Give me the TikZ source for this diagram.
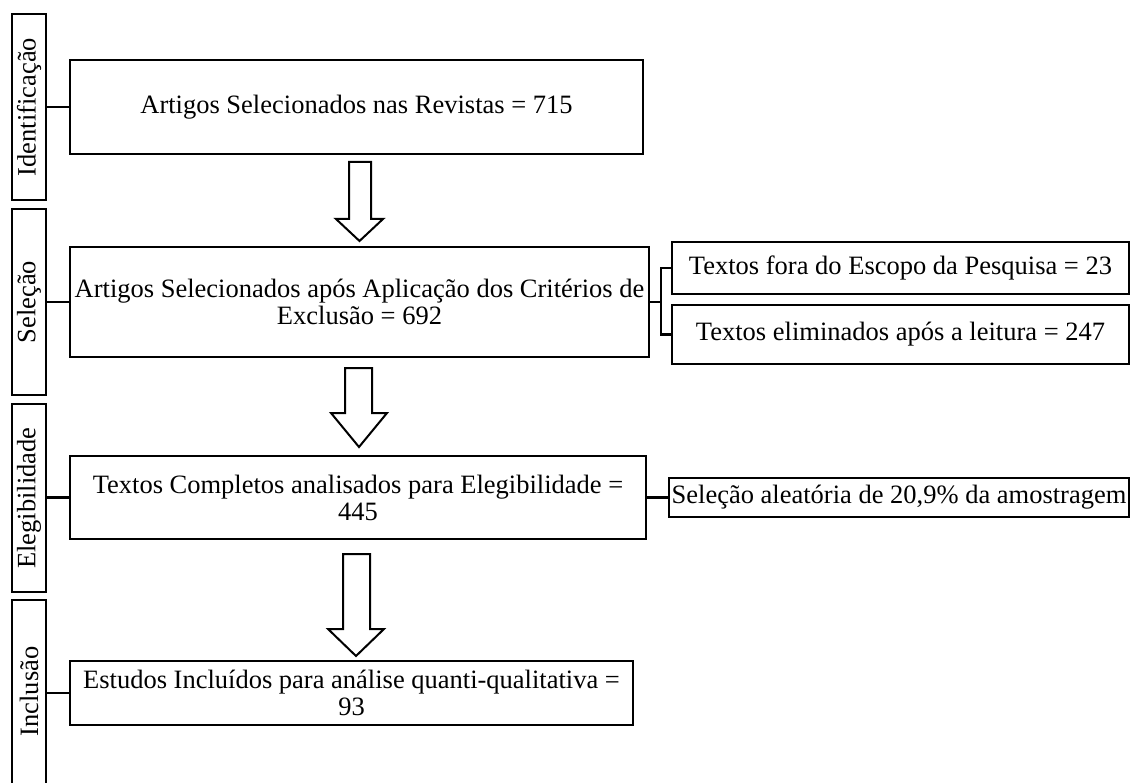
\documentclass[tikz,border=0pt]{standalone}
\usepackage{fontspec}
\setmainfont{Liberation Serif}
\begin{document}
\begin{tikzpicture}[x=1pt,y=-1pt,
  every node/.style={font=\fontsize{26.5}{27}\selectfont, inner sep=0pt, outer sep=0pt},
  phase/.style={draw, line width=2.8pt, minimum width=34pt, anchor=north west},
  mainbox/.style={draw, line width=2.8pt, align=center, anchor=north west},
  sidebox/.style={draw, line width=2.8pt, align=center, anchor=north west},
  link/.style={line width=2.8pt},
  barrow/.style={draw, line width=2pt, fill=white, line join=miter}]
\useasboundingbox (0,0) rectangle (1131,783);

% phase boxes
\node[phase, minimum height=186pt] (P1) at (12,14) {};
\node[rotate=90] at (P1.center) {Identificação};
\node[phase, minimum height=186pt] (P2) at (12,209) {};
\node[rotate=90] at (P2.center) {Seleção};
\node[phase, minimum height=188pt] (P3) at (12,404) {};
\node[rotate=90] at (P3.center) {Elegibilidade};
\node[minimum width=34pt, minimum height=183pt, anchor=north west] (P4) at (12,600) {};
\draw[line width=2.8pt] (P4.south west) -- (P4.north west) -- (P4.north east) -- (P4.south east);
\node[rotate=90] at (P4.center) {Inclusão};

% main boxes
\node[mainbox, minimum width=573pt, minimum height=94pt] (B1) at (70,60) {Artigos Selecionados nas Revistas = 715};
\node[mainbox, minimum width=579pt, minimum height=110pt] (B2) at (70,247) {Artigos Selecionados após Aplicação dos Critérios de\\Exclusão = 692};
\node[mainbox, minimum width=576pt, minimum height=83pt] (B3) at (70,456) {Textos Completos analisados para Elegibilidade =\\445};
\node[mainbox, minimum width=563pt, minimum height=64pt] (B4) at (70,661) {Estudos Incluídos para análise quanti-qualitativa =\\93};

% phase links
\draw[link] (B1.west) -- (B1.west -| P1.east);
\draw[link] (B2.west) -- (B2.west -| P2.east);
\draw[link] (B3.west) -- (B3.west -| P3.east);
\draw[link] (B4.west) -- (B4.west -| P4.east);

% side boxes
\node[sidebox, minimum width=457pt, minimum height=52pt] (RA) at (672,242) {Textos fora do Escopo da Pesquisa = 23};
\node[sidebox, minimum width=457pt, minimum height=59pt] (RB) at (672,305) {Textos eliminados após a leitura = 247};
\node[sidebox, minimum width=460pt, minimum height=39pt] (RC) at (669,478) {Seleção aleatória de 20,9\% da amostragem};

\coordinate (br) at (661,301.5);
\draw[link] (B2.east) -- (B2.east -| br);
\draw[link] (RA.west) -| (br) |- (RB.west);
\draw[link] (B3.east) -- (RC.west);

% block arrows
\draw[barrow] (349,162) -- (371,162) -- (371,219) -- (383,219) -- (359.5,241) -- (336,219) -- (349,219) -- cycle;
\draw[barrow] (345,368) -- (372,368) -- (372,413) -- (387,413) -- (359,447) -- (331,413) -- (345,413) -- cycle;
\draw[barrow] (343,554) -- (370,554) -- (370,629) -- (384,629) -- (356,656) -- (328,629) -- (343,629) -- cycle;
\end{tikzpicture}
\end{document}
